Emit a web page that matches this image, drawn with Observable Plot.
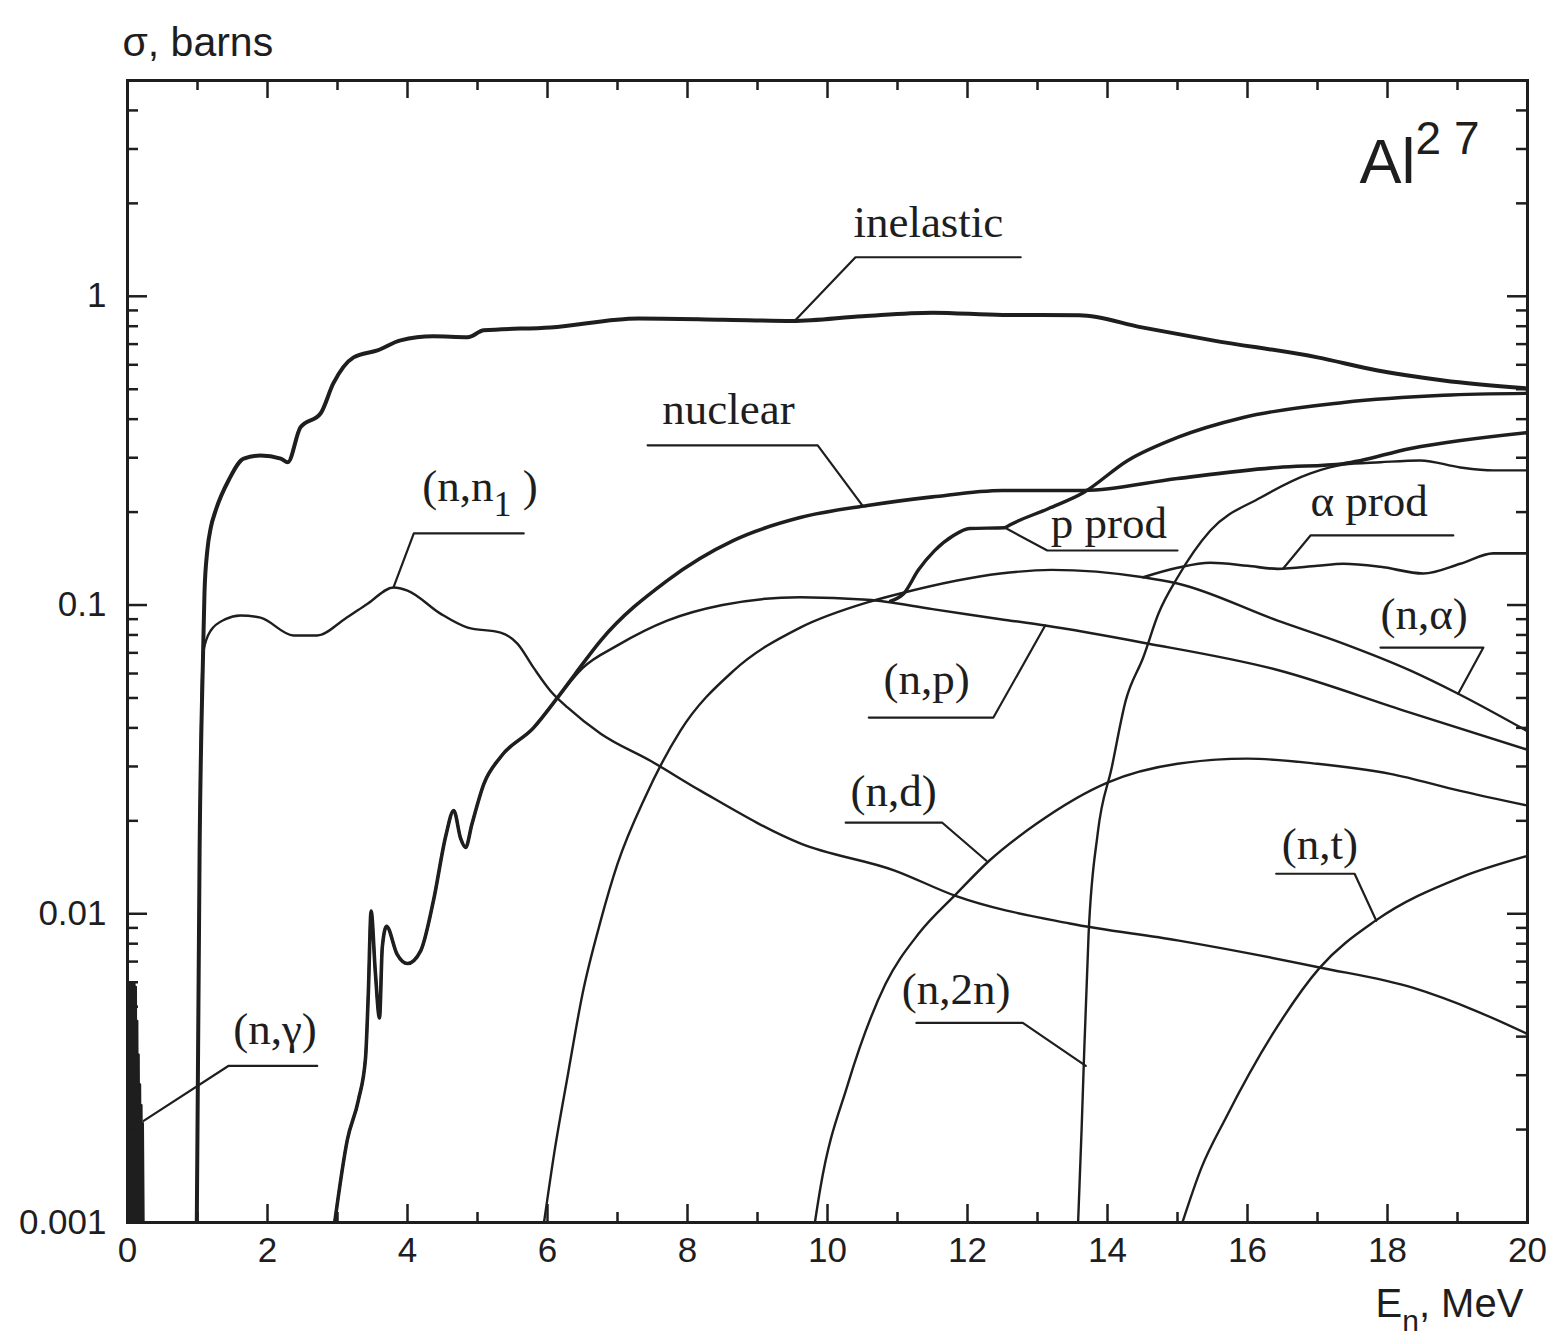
<!DOCTYPE html>
<html>
<head>
<meta charset="utf-8">
<script src="https://cdn.jsdelivr.net/npm/d3@7"></script>
<script src="https://cdn.jsdelivr.net/npm/@observablehq/plot@0.6"></script>
<style>
  html, body { margin: 0; padding: 0; background: #ffffff; }
  #chart { width: 1555px; height: 1336px; }
</style>
</head>
<body>
<div id="chart"></div>
<script>
// ---------- tick values ----------
const xTicksMajor = [0, 2, 4, 6, 8, 10, 12, 14, 16, 18, 20];
const xTicksMinor = [1, 3, 5, 7, 9, 11, 13, 15, 17, 19];
const yTicksMajor = [0.001, 0.01, 0.1, 1];
const yTicksMinor = [0.002, 0.003, 0.004, 0.005, 0.006, 0.007, 0.008, 0.009,
                     0.02, 0.03, 0.04, 0.05, 0.06, 0.07, 0.08, 0.09,
                     0.2, 0.3, 0.4, 0.5, 0.6, 0.7, 0.8, 0.9, 2, 3, 4];

// ---------- series: [E (MeV), sigma (barns)] ----------
const inelastic = [[0.99,0.001],[1.03,0.016],[1.08,0.07],[1.1,0.11],[1.14,0.15],[1.19,0.178],[1.26,0.2025],
  [1.45,0.255],[1.66,0.298],[1.9,0.305],[2.19,0.298],[2.29,0.29],[2.47,0.376],[2.76,0.418],[2.94,0.522],
  [3.23,0.634],[3.57,0.668],[3.9,0.72],[4.37,0.742],[4.86,0.737],[5.09,0.776],[6.04,0.793],[7.3,0.848],
  [8.5,0.84],[9.5,0.832],[10.5,0.862],[11.5,0.885],[12.5,0.87],[13.6,0.868],[14.49,0.793],[15.5,0.72],
  [17.0,0.634],[17.86,0.575],[18.8,0.534],[20,0.503]];

const nn1 = [[0.99,0.001],[1.03,0.016],[1.08,0.07],[1.19,0.0827],[1.4,0.09],[1.61,0.0925],[1.9,0.091],
  [2.37,0.0797],[2.71,0.0797],[3.1,0.09],[3.43,0.101],[3.8,0.114],[4.0,0.1114],[4.47,0.0938],[4.86,0.0845],
  [5.33,0.0814],[5.57,0.075],[5.8,0.0627],[6.04,0.0528],[6.29,0.0465],[6.76,0.0383],[7.47,0.0313],
  [8.19,0.025],[9.61,0.0169],[10.96,0.0138],[11.84,0.0114],[13.46,0.0093],[15.0,0.0082],[17.03,0.0067],
  [18.37,0.00575],[19.26,0.00485],[20,0.00408]];

const nGamma = [[0,0.006],[0.01,0.001],[0.02,0.006],[0.03,0.001],[0.04,0.006],[0.05,0.001],[0.06,0.006],
  [0.07,0.001],[0.08,0.006],[0.09,0.001],[0.1,0.006],[0.11,0.001],[0.12,0.0058],[0.13,0.001],[0.14,0.0045],
  [0.15,0.001],[0.16,0.0035],[0.17,0.001],[0.18,0.0028],[0.19,0.001],[0.2,0.0024],[0.21,0.001],
  [0.22,0.0021],[0.23,0.001]];

// common low-energy part of "nuclear" and (n,p)
const nuclearLow = [[2.96,0.001],[3.14,0.00185],[3.3,0.0025],[3.4,0.0034],[3.44,0.0055],[3.48,0.0102],
  [3.54,0.0065],[3.6,0.0046],[3.64,0.0078],[3.7,0.0091],[3.85,0.0074],[4.0,0.0069],[4.19,0.0076],
  [4.37,0.011],[4.55,0.018],[4.66,0.0216],[4.76,0.0175],[4.83,0.0164],[4.92,0.0195],[5.09,0.0263],
  [5.33,0.0322],[5.8,0.040],[6.14,0.050]];

const nuclearHigh = [[6.4,0.06],[6.76,0.0767],[7.71,0.12],[8.66,0.162],[9.61,0.192],[10.57,0.21],
  [11.5,0.224],[12.5,0.235],[13.66,0.235],[15.0,0.257],[16.43,0.279],[17.37,0.287],[18.33,0.3216],[20,0.362]];

const npHigh = [[6.5,0.0625],[7.0,0.074],[7.71,0.089],[8.5,0.1],[9.61,0.106],[10.57,0.104],[11.5,0.097],
  [12.47,0.09],[13.11,0.0858],[14.51,0.0755],[16.43,0.0616],[18.3,0.045],[20,0.034]];

const nAlpha = [[5.95,0.001],[6.1,0.0017],[6.29,0.003],[6.5,0.0055],[6.76,0.0095],[7.0,0.0145],[7.4,0.024],
  [7.9,0.0392],[8.66,0.0613],[9.61,0.0845],[10.57,0.102],[11.04,0.109],[12.47,0.1265],[13.2,0.13],
  [14.51,0.123],[15.0,0.1174],[16.43,0.089],[17.37,0.075],[18.33,0.0613],[19.01,0.0516],[20,0.039]];

const pProd = [[10.9,0.103],[11.09,0.109],[11.3,0.13],[11.53,0.15],[11.8,0.168],[12.03,0.177],[12.53,0.178],
  [12.61,0.182],[13.16,0.2055],[13.66,0.2316],[14.29,0.294],[15.0,0.349],[15.94,0.405],[17.37,0.453],
  [18.8,0.478],[20,0.485]];

const alphaProd = [[14.51,0.123],[15.0,0.132],[15.47,0.137],[16.0,0.134],[16.43,0.131],[17.0,0.134],
  [17.37,0.136],[17.9,0.133],[18.51,0.1265],[19.04,0.136],[19.51,0.147],[20,0.147]];

const n2n = [[13.58,0.001],[13.63,0.002],[13.66,0.0032],[13.73,0.0086],[13.86,0.0182],[14.06,0.0297],
  [14.26,0.049],[14.51,0.0676],[14.73,0.094],[15.0,0.1228],[15.47,0.1743],[16.19,0.223],[16.9,0.267],
  [17.37,0.285],[17.9,0.29],[18.47,0.294],[19.04,0.279],[19.51,0.273],[20,0.273]];

const nD = [[9.82,0.001],[9.9,0.0013],[10.29,0.0028],[10.83,0.00593],[11.3,0.00861],[11.84,0.0116],
  [12.31,0.01485],[12.99,0.0196],[14.0,0.0266],[15.0,0.0306],[16.0,0.0318],[17.0,0.0306],[18.04,0.0284],
  [19.04,0.025],[20,0.0224]];

const nT = [[15.07,0.001],[15.34,0.0015],[15.69,0.00218],[16.36,0.00408],[17.03,0.00668],[17.83,0.0095],
  [19.04,0.0131],[20,0.0154]];

// ---------- curve labels and leader lines ----------
const labelTexts = ["inelastic", "nuclear", "(n,n1)", "(n,γ)", "p prod", "α prod", "(n,α)", "(n,p)", "(n,d)", "(n,t)", "(n,2n)"];
const labelE     = [10.37, 7.64, 4.21, 1.51, 13.19, 16.9, 17.9, 10.8, 10.33, 16.49, 11.06];
const labelSigma = [1.738, 0.4302, 0.2421, 0.004207, 0.1837, 0.2165, 0.0931, 0.05733, 0.02486, 0.01674, 0.005671];
const leaderPaths = [
  [[12.76,1.338],[10.4,1.338],[9.54,0.836]],
  [[7.43,0.329],[9.86,0.329],[10.5,0.21]],
  [[5.66,0.1706],[4.09,0.1706],[3.8,0.114]],
  [[2.71,0.003214],[1.44,0.003214],[0.23,0.002133]],
  [[15.0,0.1502],[13.14,0.1502],[12.53,0.1783]],
  [[18.94,0.168],[16.9,0.168],[16.51,0.1313]],
  [[17.9,0.0728],[19.37,0.0728],[19.01,0.0516]],
  [[10.59,0.0432],[12.37,0.0432],[13.11,0.0858]],
  [[10.26,0.01972],[11.64,0.01972],[12.27,0.01485]],
  [[16.41,0.01348],[17.53,0.01348],[17.84,0.00949]],
  [[11.27,0.004431],[12.79,0.004431],[13.69,0.003216]]
];

// ---------- drawing ----------
const INK = "#1e1e1e";
const SANS = "'Liberation Sans', Arial, Helvetica, sans-serif";
const SERIF = "'Liberation Serif', 'Times New Roman', 'DejaVu Serif', serif";
const W = 1555, H = 1336, mL = 127, mR = 28, mT = 80, mB = 114;
const innerW = W - mL - mR, innerH = H - mT - mB;

const rows = pts => pts.map(([E, s]) => ({E, s}));
const curve = (pts, sw, c = "monotone-x") =>
  Plot.line(rows(pts), {x: "E", y: "s", stroke: INK, strokeWidth: sw, curve: c, clip: true,
    strokeLinejoin: "round", strokeLinecap: "round"});

const labelRows = labelTexts.map((t, i) => ({t, E: labelE[i], s: labelSigma[i]}));
const leaderRows = leaderPaths.flatMap((p, k) => p.map(([E, s]) => ({k, E, s})));

const plot = Plot.plot({
  width: W, height: H,
  marginLeft: mL, marginRight: mR, marginTop: mT, marginBottom: mB,
  style: {background: "#ffffff", overflow: "visible"},
  x: {domain: [0, 20], label: null},
  y: {type: "log", domain: [0.001, 5], label: null},
  marks: [
    // curves
    curve(nGamma, 2.2, "linear"),
    curve(nn1, 2.4),
    curve(nD, 2.4),
    curve(nT, 2.4),
    curve(n2n, 2.4),
    curve(nAlpha, 2.4),
    curve(alphaProd, 2.6),
    curve(nuclearLow.concat(npHigh), 2.5),
    curve(pProd, 3.4),
    curve(nuclearLow.concat(nuclearHigh), 3.6),
    curve(inelastic, 4.0),
    // leaders
    Plot.line(leaderRows, {x: "E", y: "s", z: "k", stroke: INK, strokeWidth: 2.2, curve: "linear"}),
    // labels
    Plot.text(labelRows, {x: "E", y: "s", text: "t", textAnchor: "start", fontSize: 45,
      fontFamily: SERIF, fill: INK}),
    // frame and ticks (inward)
    Plot.frame({stroke: INK, strokeWidth: 3}),
    Plot.tickX(xTicksMajor, {x: d => d, insetTop: innerH - 18, stroke: INK, strokeWidth: 2.5}),
    Plot.tickX(xTicksMinor, {x: d => d, insetTop: innerH - 10, stroke: INK, strokeWidth: 2.5}),
    Plot.tickX(xTicksMajor, {x: d => d, insetBottom: innerH - 18, stroke: INK, strokeWidth: 2.5}),
    Plot.tickX(xTicksMinor, {x: d => d, insetBottom: innerH - 10, stroke: INK, strokeWidth: 2.5}),
    Plot.tickY(yTicksMajor, {y: d => d, insetRight: innerW - 20, stroke: INK, strokeWidth: 2.5}),
    Plot.tickY(yTicksMinor, {y: d => d, insetRight: innerW - 11, stroke: INK, strokeWidth: 2.5}),
    Plot.tickY(yTicksMajor, {y: d => d, insetLeft: innerW - 20, stroke: INK, strokeWidth: 2.5}),
    Plot.tickY(yTicksMinor, {y: d => d, insetLeft: innerW - 11, stroke: INK, strokeWidth: 2.5}),
    // tick labels
    Plot.axisX(xTicksMajor, {anchor: "bottom", tickSize: 0, tickPadding: 15, tickFormat: d => String(d),
      fontSize: 35, fontFamily: SANS, fill: INK, label: null}),
    Plot.axisY(yTicksMajor, {anchor: "left", tickSize: 0, tickPadding: 21, tickFormat: d => String(d),
      fontSize: 35, fontFamily: SANS, fill: INK, label: null}),
    // axis titles and nucleus name
    Plot.text(["σ, barns"], {frameAnchor: "top-left", lineAnchor: "middle", text: d => d, textAnchor: "start",
      dx: -5, dy: -38, fontSize: 41, fontFamily: SANS, fill: INK}),
    Plot.text(["En, MeV"], {frameAnchor: "bottom-right", lineAnchor: "middle", text: d => d, textAnchor: "start",
      dx: -152, dy: 82, fontSize: 40, fontFamily: SANS, fill: INK}),
    Plot.text(["Al27"], {frameAnchor: "top-right", lineAnchor: "middle", text: d => d, textAnchor: "start",
      dx: -168, dy: 82, fontSize: 63, fontFamily: SANS, fill: INK})
  ]
});

document.getElementById("chart").appendChild(plot);

// sub/superscripts as real text via tspans
d3.select(plot).selectAll("text").each(function () {
  const t = this.textContent;
  const el = d3.select(this);
  if (t === "(n,n1)") {
    el.text(null);
    el.append("tspan").text("(n,n");
    el.append("tspan").attr("dy", 15).attr("font-size", 36).text("1");
    el.append("tspan").attr("dy", -15).text(" )");
  } else if (t === "Al27") {
    el.text(null);
    el.append("tspan").text("Al");
    el.append("tspan").attr("dy", -29).attr("font-size", 46).text("2 7");
  } else if (t === "En, MeV") {
    el.text(null);
    el.append("tspan").text("E");
    el.append("tspan").attr("dy", 14).attr("font-size", 30).text("n");
    el.append("tspan").attr("dy", -14).text(", MeV");
  }
});
</script>
</body>
</html>
